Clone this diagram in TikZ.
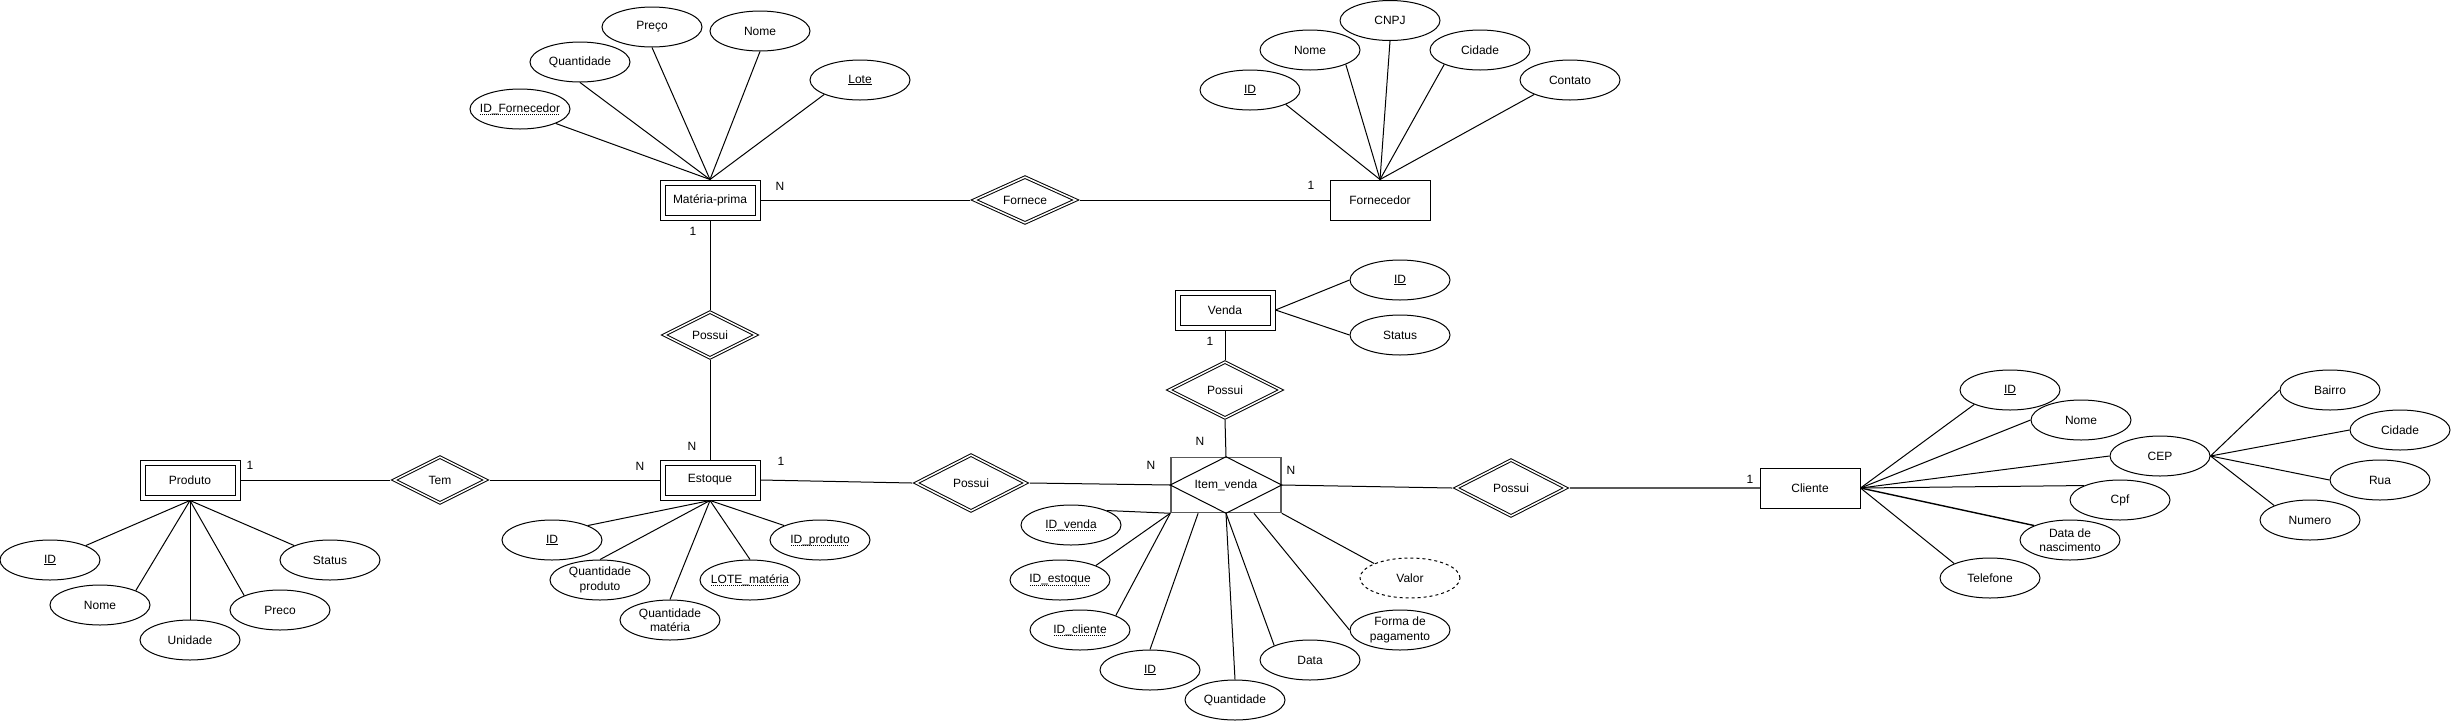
\documentclass[tikz,border=0pt]{standalone}
\usepackage{fontspec}
\setmainfont{Liberation Sans}
\usetikzlibrary{shapes.geometric,calc}
\newcommand\fs{\fontsize{12pt}{14.4pt}\selectfont}
\newcommand\fkline[1]{\setbox0\hbox{#1}\rlap{\usebox0}\raisebox{-2.5pt}{\makebox[\wd0][l]{\leaders\hbox to 2pt{\hss\rule{1pt}{0.8pt}\hss}\hfill}}}
\newcommand\pkey[1]{\underline{#1}}
\tikzset{
  attr/.style={ellipse, draw, minimum width=100pt, minimum height=40pt, inner xsep=-25pt, inner ysep=-8pt, align=center},
  dattr/.style={attr, dash pattern=on 3pt off 3pt},
  went/.style={rectangle, draw, double, double distance=4pt, minimum width=95pt, minimum height=35pt, outer sep=3pt},
  ent/.style={rectangle, draw, minimum width=100pt, minimum height=40pt},
  wrel/.style={diamond, draw, double, double distance=1.5pt, inner sep=0pt, aspect=2.2, outer xsep=3pt, outer ysep=1.5pt},
  card/.style={inner sep=0pt},
  assoc/.style={rectangle, draw=black!65, line width=1.5pt, minimum width=110pt, minimum height=55pt, inner sep=0pt},
  grayline/.style={draw=black!65, line width=1.5pt}
}
\begin{document}
\begin{tikzpicture}[x=1pt,y=-1pt,line width=1pt,every node/.append style={font=\fs}]
\path[use as bounding box] (0,0) rectangle (2451,721);

% ---------- Materia-prima ----------
\node[went] (mp) at (710,200) {Matéria-prima};
\node[attr] (mpidf) at (520,109) {\fkline{ID\_Fornecedor}};
\node[attr] (mpqt) at (580,62) {Quantidade};
\node[attr] (mppr) at (652,27) {Preço};
\node[attr] (mpno) at (760,31) {Nome};
\node[attr] (mplo) at (860,80) {\pkey{Lote}};
\draw (mpidf.338) -- (mp.north);
\draw (mpqt.south) -- (mp.north);
\draw (mppr.south) -- (mp.north);
\draw (mpno.south) -- (mp.north);
\draw (mplo.202) -- (mp.north);

% ---------- Fornece / Fornecedor ----------
\node[wrel, minimum width=104pt, minimum height=47pt] (fn) at (1025,200) {Fornece};
\node[ent] (fo) at (1380,200) {Fornecedor};
\node[attr] (foid) at (1250,90) {\pkey{ID}};
\node[attr] (fono) at (1310,50) {Nome};
\node[attr] (focn) at (1390,20.5) {CNPJ};
\node[attr] (foci) at (1480,50) {Cidade};
\node[attr] (foco) at (1570,80) {Contato};
\draw (foid.338) -- (fo.north);
\draw (fono.338) -- (fo.north);
\draw (focn.south) -- (fo.north);
\draw (foci.202) -- (fo.north);
\draw (foco.202) -- (fo.north);
\draw (mp.east) -- (fn.west);
\draw (fn.east) -- (fo.west);
\node[card] (c1) at (780,186) {N};
\node[card] (c2) at (1311,185) {1};

% ---------- Possui (materia/estoque) ----------
\node[wrel, minimum width=94pt, minimum height=47pt] (ps1) at (710,335) {Possui};
\node[went] (es) at (710,480) {Estoque};
\draw (mp.south) -- (ps1.north);
\draw (ps1.south) -- (es.north);
\node[card] (c3) at (693,231) {1};
\node[card] (c4) at (692,446) {N};

% ---------- Estoque attributes ----------
\node[attr] (esid) at (552,540) {\pkey{ID}};
\node[attr] (esqp) at (600,580) {Quantidade\\produto};
\node[attr] (esqm) at (670,620) {Quantidade\\matéria};
\node[attr] (eslo) at (750,580) {\fkline{LOTE\_matéria}};
\node[attr] (esip) at (820,540) {\fkline{ID\_produto}};
\draw (esid.22) -- (es.south);
\draw (esqp.north) -- (es.south);
\draw (esqm.north) -- (es.south);
\draw (eslo.north) -- (es.south);
\draw (esip.158) -- (es.south);

% ---------- Produto ----------
\node[went] (pr) at (190,480) {Produto};
\node[attr] (prid) at (50,560) {\pkey{ID}};
\node[attr] (prno) at (100,605) {Nome};
\node[attr] (prun) at (190,640) {Unidade};
\node[attr] (prpc) at (280,610) {Preco};
\node[attr] (prst) at (330,560) {Status};
\draw (prid.22) -- (pr.south);
\draw (prno.22) -- (pr.south);
\draw (prun.north) -- (pr.south);
\draw (prpc.158) -- (pr.south);
\draw (prst.158) -- (pr.south);
\node[wrel, minimum width=94pt, minimum height=47pt] (tem) at (440,480) {Tem};
\draw (pr.east) -- (tem.west);
\draw (tem.east) -- (es.west);
\node[card] (c5) at (250,465) {1};
\node[card] (c6) at (640,466) {N};

% ---------- Item_venda ----------
\node[wrel, minimum width=112pt, minimum height=57pt] (ps2) at (971,483) {Possui};
\node[assoc] (iv) at (1226,485) {Item\_venda};
\draw (iv.north) -- (iv.east) -- (iv.south) -- (iv.west) -- cycle;
\draw (es.east) -- (ps2.west);
\draw (ps2.east) -- (iv.west);
\node[card] (c7) at (781,461) {1};
\node[card] (c8) at (1151,465) {N};

\coordinate (ivq1) at ($(iv.south west)!0.25!(iv.south east)$);
\coordinate (ivq3) at ($(iv.south west)!0.75!(iv.south east)$);
\node[attr] (ivv) at (1071,525) {\fkline{ID\_venda}};
\node[attr] (ive) at (1060,580) {\fkline{ID\_estoque}};
\node[attr] (ivc) at (1080,630) {\fkline{ID\_cliente}};
\node[attr] (ivid) at (1150,670) {\pkey{ID}};
\node[attr] (ivq) at (1235,700) {Quantidade};
\node[attr] (ivd) at (1310,660) {Data};
\node[attr] (ivf) at (1400,630) {Forma de\\pagamento};
\node[dattr] (ivval) at (1410,578) {Valor};
\draw (ivv.22) -- (iv.south west);
\draw (ive.22) -- (iv.south west);
\draw (ivc.22) -- (iv.south west);
\draw (ivid.north) -- (ivq1);
\draw (ivq.north) -- (iv.south);
\draw (ivd.158) -- (iv.south);
\draw (ivf.west) -- (ivq3);
\draw (ivval.158) -- (iv.south east);

% ---------- Venda ----------
\node[went] (ve) at (1225,310) {Venda};
\node[attr] (veid) at (1400,280) {\pkey{ID}};
\node[attr] (vest) at (1400,335) {Status};
\draw (ve.east) -- (veid.west);
\draw (ve.east) -- (vest.west);
\node[wrel, minimum width=114pt, minimum height=57pt] (ps4) at (1225,390) {Possui};
\draw (ve.south) -- (ps4.north);
\draw (ps4.south) -- (iv.north);
\node[card] (c9) at (1210,341) {1};
\node[card] (c10) at (1200,441) {N};

% ---------- Cliente ----------
\node[wrel, minimum width=112pt, minimum height=57pt] (ps3) at (1511,488) {Possui};
\node[ent] (cl) at (1810,488) {Cliente};
\draw (iv.east) -- (ps3.west);
\draw[grayline] (ps3.east) -- (cl.west);
\node[card] (c11) at (1291,470) {N};
\node[card] (c12) at (1750,479) {1};

\node[attr] (clid) at (2010,390) {\pkey{ID}};
\node[attr] (clno) at (2081,420) {Nome};
\node[attr] (clcep) at (2160,456) {CEP};
\node[attr] (clcpf) at (2120,500) {Cpf};
\node[attr] (cldn) at (2070,540) {Data de\\nascimento};
\node[attr] (cltel) at (1990,578) {Telefone};
\draw (cl.east) -- (clid.202);
\draw (cl.east) -- (clno.west);
\draw (cl.east) -- (clcep.west);
\draw (cl.east) -- (clcpf.158);
\draw[line width=1.4pt] (cl.east) -- (cldn.158);
\draw (cl.east) -- (cltel.158);

\node[attr] (cba) at (2330,390) {Bairro};
\node[attr] (cci) at (2400,430) {Cidade};
\node[attr] (cru) at (2380,480) {Rua};
\node[attr] (cnu) at (2310,520) {Numero};
\draw (clcep.east) -- (cba.west);
\draw (clcep.east) -- (cci.west);
\draw (clcep.east) -- (cru.west);
\draw (clcep.east) -- (cnu.158);
\end{tikzpicture}
\end{document}
